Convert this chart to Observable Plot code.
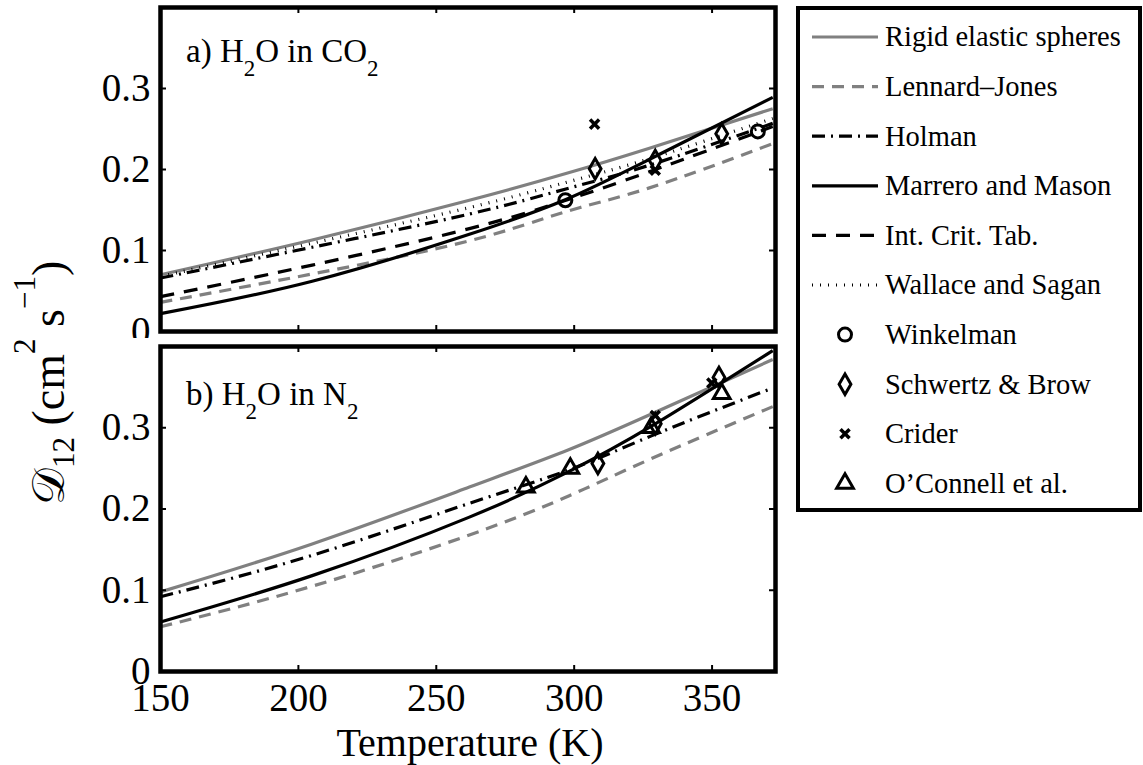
<!DOCTYPE html>
<html><head><meta charset="utf-8">
<script src="https://cdn.jsdelivr.net/npm/d3@7"></script>
<script src="https://cdn.jsdelivr.net/npm/@observablehq/plot@0.6"></script>
<style>
body{margin:0;background:#fff;}
#wrap{position:relative;width:1143px;height:765px;overflow:hidden;background:#fff;}
#wrap > *{position:absolute;}
</style></head><body><div id="wrap"></div>
<script>
// ---------- data ----------
const xTicks = [150, 200, 250, 300, 350];
const yTicks = [0, 0.1, 0.2, 0.3];

// a) H2O in CO2
const tempA     = [150, 205, 262, 297, 327, 372];
const rigidA    = [0.070, 0.113, 0.162, 0.195, 0.226, 0.275];
const ljA       = [0.036, 0.071, 0.112, 0.148, 0.177, 0.232];
const holmanA   = [0.066, 0.104, 0.145, 0.176, 0.205, 0.257];
const marreroA  = [0.022, 0.062, 0.120, 0.163, 0.212, 0.289];
const ictA      = [0.043, 0.082, 0.127, 0.162, 0.197, 0.253];
const wallaceA  = [0.068, 0.109, 0.153, 0.184, 0.213, 0.263];
const winkA_T   = [296.8, 366.6];
const winkA_D   = [0.162, 0.247];
const schwA_T   = [307.6, 329.4, 353.5];
const schwA_D   = [0.201, 0.211, 0.244];
const criderA_T = [307.4, 329.4];
const criderA_D = [0.256, 0.199];

// b) H2O in N2
const tempB     = [150, 205, 262, 298, 328, 372];
const rigidB    = [0.098, 0.157, 0.227, 0.273, 0.317, 0.384];
const holmanB   = [0.092, 0.143, 0.207, 0.248, 0.290, 0.349];
const marreroB  = [0.061, 0.118, 0.190, 0.246, 0.302, 0.395];
const ljB       = [0.055, 0.105, 0.168, 0.216, 0.262, 0.326];
const schwB_T   = [308.6, 329.4, 352.5];
const schwB_D   = [0.256, 0.305, 0.362];
const criderB_T = [329.4, 349.9];
const criderB_D = [0.315, 0.355];
const oconB_T   = [282.5, 298.6, 327.9, 353.5];
const oconB_D   = [0.227, 0.250, 0.300, 0.342];

// ---------- styles ----------
const FONT = '"Liberation Serif", "Times New Roman", Times, serif';
const GRAY = "#808080";
const styles = {
  rigid:   {stroke: GRAY,    strokeWidth: 3.2, strokeDasharray: null},
  lj:      {stroke: GRAY,    strokeWidth: 3.2, strokeDasharray: "12,8"},
  holman:  {stroke: "black", strokeWidth: 3.2, strokeDasharray: "13,6,2,6"},
  marrero: {stroke: "black", strokeWidth: 3.2, strokeDasharray: null},
  ict:     {stroke: "black", strokeWidth: 3.2, strokeDasharray: "14,10"},
  wallace: {stroke: "black", strokeWidth: 3.2, strokeDasharray: "1,7"}
};
const symStyles = {
  wink:   {symbol: "circle",   r: 6.5, strokeWidth: 3},
  schw:   {symbol: "diamond",  r: 6.2, strokeWidth: 3},
  crider: {symbol: "times",    r: 4.2, strokeWidth: 3.5},
  ocon:   {symbol: "triangle", r: 6.2, strokeWidth: 3}
};

const rowsA = tempA.map((t, i) => ({t, rigid: rigidA[i], lj: ljA[i], holman: holmanA[i], marrero: marreroA[i], ict: ictA[i], wallace: wallaceA[i]}));
const rowsB = tempB.map((t, i) => ({t, rigid: rigidB[i], lj: ljB[i], holman: holmanB[i], marrero: marreroB[i]}));
const pts = (T, D) => T.map((t, i) => ({t, d: D[i]}));

const W = 780, ML = 160, MR = 5;

function panel({rows, keys, points, height, mt, mb, showX}) {
  const innerH = height - mt - mb, innerW = W - ML - MR;
  const marks = [];
  for (const k of keys) {
    const s = styles[k];
    marks.push(Plot.line(rows, {x: "t", y: k, stroke: s.stroke, strokeWidth: s.strokeWidth,
      strokeDasharray: s.strokeDasharray, curve: "natural", strokeLinecap: "butt"}));
  }
  for (const [k, data] of points) {
    const s = symStyles[k];
    marks.push(Plot.dot(data, {x: "t", y: "d", symbol: s.symbol, r: s.r, stroke: "black", fill: "none", strokeWidth: s.strokeWidth}));
  }
  const tk = {stroke: "black", strokeWidth: 2};
  marks.push(Plot.ruleX(xTicks.slice(1), {...tk, insetTop: innerH - 6}));
  marks.push(Plot.ruleX(xTicks.slice(1), {...tk, insetBottom: innerH - 6}));
  marks.push(Plot.ruleY(yTicks.slice(1), {...tk, insetRight: innerW - 6}));
  marks.push(Plot.ruleY(yTicks.slice(1), {...tk, insetLeft: innerW - 6}));
  marks.push(Plot.frame({stroke: "black", strokeWidth: 4.5}));
  return Plot.plot({
    width: W, height,
    marginLeft: ML, marginRight: MR, marginTop: mt, marginBottom: mb,
    style: {fontFamily: FONT, fontSize: "39px", background: "white", color: "black", overflow: "visible"},
    x: {domain: [150, 373], ticks: xTicks, tickSize: 0, tickPadding: 12, tickFormat: d => String(d), label: null, axis: showX ? "bottom" : null},
    y: {domain: [0, 0.4], ticks: yTicks, tickSize: 0, tickPadding: 10, tickFormat: d => d === 0 ? "0" : d.toFixed(1), label: null},
    marks
  });
}

// parts: [text, isSubscript]
function addPanelLabel(svg, x, y, parts) {
  const t = d3.select(svg).append("text").attr("x", x).attr("y", y)
    .attr("text-anchor", "start")
    .attr("font-family", FONT).attr("font-size", 33).attr("fill", "black");
  let wasSub = false;
  for (const [txt, sub] of parts) {
    const dy = sub && !wasSub ? 14 : (!sub && wasSub ? -14 : 0);
    t.append("tspan").attr("font-size", sub ? 23 : 33).attr("dy", dy).text(txt);
    wasSub = sub;
  }
}

const wrap = document.getElementById("wrap");

const topPlot = panel({rows: rowsA, keys: ["rigid", "lj", "holman", "marrero", "ict", "wallace"],
  points: [["wink", pts(winkA_T, winkA_D)], ["schw", pts(schwA_T, schwA_D)], ["crider", pts(criderA_T, criderA_D)]],
  height: 340, mt: 7, mb: 9, showX: false});
topPlot.style.left = "0px"; topPlot.style.top = "0px";
addPanelLabel(topPlot, 186, 62, [["a) H", false], ["2", true], ["O in CO", false], ["2", true]]);
wrap.appendChild(topPlot);

const botPlot = panel({rows: rowsB, keys: ["rigid", "lj", "holman", "marrero"],
  points: [["schw", pts(schwB_T, schwB_D)], ["crider", pts(criderB_T, criderB_D)], ["ocon", pts(oconB_T, oconB_D)]],
  height: 427, mt: 8, mb: 94, showX: true});
botPlot.style.left = "0px"; botPlot.style.top = "338px";
addPanelLabel(botPlot, 186, 67, [["b) H", false], ["2", true], ["O in N", false], ["2", true]]);
d3.select(botPlot).append("text").attr("x", 470).attr("y", 418).attr("text-anchor", "middle")
  .attr("font-family", FONT).attr("font-size", 40).attr("fill", "black").text("Temperature (K)");
wrap.appendChild(botPlot);

// y-axis title
const ysvg = d3.create("svg").attr("width", 100).attr("height", 765)
  .style("left", "0px").style("top", "0px").style("overflow", "visible");
const yt = ysvg.append("text").attr("transform", "translate(64,505) rotate(-90)")
  .attr("text-anchor", "start")
  .attr("font-family", FONT).attr("font-size", 46).attr("fill", "black");
yt.append("tspan").text("𝒟");
yt.append("tspan").attr("font-size", 31).attr("dy", 10).text("12");
yt.append("tspan").attr("dy", -10).text(" (cm");
yt.append("tspan").attr("font-size", 31).attr("dy", -29).text("2");
yt.append("tspan").attr("dy", 29).text(" s");
yt.append("tspan").attr("font-size", 31).attr("dy", -29).text("\u22121");
yt.append("tspan").attr("dy", 29).text(")");
wrap.appendChild(ysvg.node());

// legend
const legendItems = [
  {name: "Rigid elastic spheres", line: "rigid"},
  {name: "Lennard\u2013Jones", line: "lj"},
  {name: "Holman", line: "holman"},
  {name: "Marrero and Mason", line: "marrero"},
  {name: "Int. Crit. Tab.", line: "ict"},
  {name: "Wallace and Sagan", line: "wallace"},
  {name: "Winkelman", sym: "wink"},
  {name: "Schwertz & Brow", sym: "schw"},
  {name: "Crider", sym: "crider"},
  {name: "O\u2019Connell et al.", sym: "ocon"}
];
const symMap = {circle: d3.symbolCircle, diamond: d3.symbolDiamond, times: d3.symbolTimes, triangle: d3.symbolTriangle};
const lsvg = d3.create("svg").attr("width", 353).attr("height", 520)
  .style("left", "790px").style("top", "0px");
lsvg.append("rect").attr("x", 8).attr("y", 8).attr("width", 342).attr("height", 502)
  .attr("fill", "white").attr("stroke", "black").attr("stroke-width", 4);
legendItems.forEach((it, i) => {
  const y = 37 + i * 49.6;
  if (it.line) {
    const s = styles[it.line];
    lsvg.append("line").attr("x1", 22).attr("x2", 88).attr("y1", y).attr("y2", y)
      .attr("stroke", s.stroke).attr("stroke-width", s.strokeWidth)
      .attr("stroke-dasharray", s.strokeDasharray);
  } else {
    const s = symStyles[it.sym];
    lsvg.append("path").attr("transform", `translate(55,${y})`)
      .attr("d", d3.symbol(symMap[s.symbol], Math.PI * s.r * s.r)())
      .attr("fill", "none").attr("stroke", "black").attr("stroke-width", s.strokeWidth);
  }
  lsvg.append("text").attr("x", 95).attr("y", y).attr("dy", "0.33em")
    .attr("font-family", FONT).attr("font-size", 28.5).attr("fill", "black").text(it.name);
});
wrap.appendChild(lsvg.node());
</script></body></html>
